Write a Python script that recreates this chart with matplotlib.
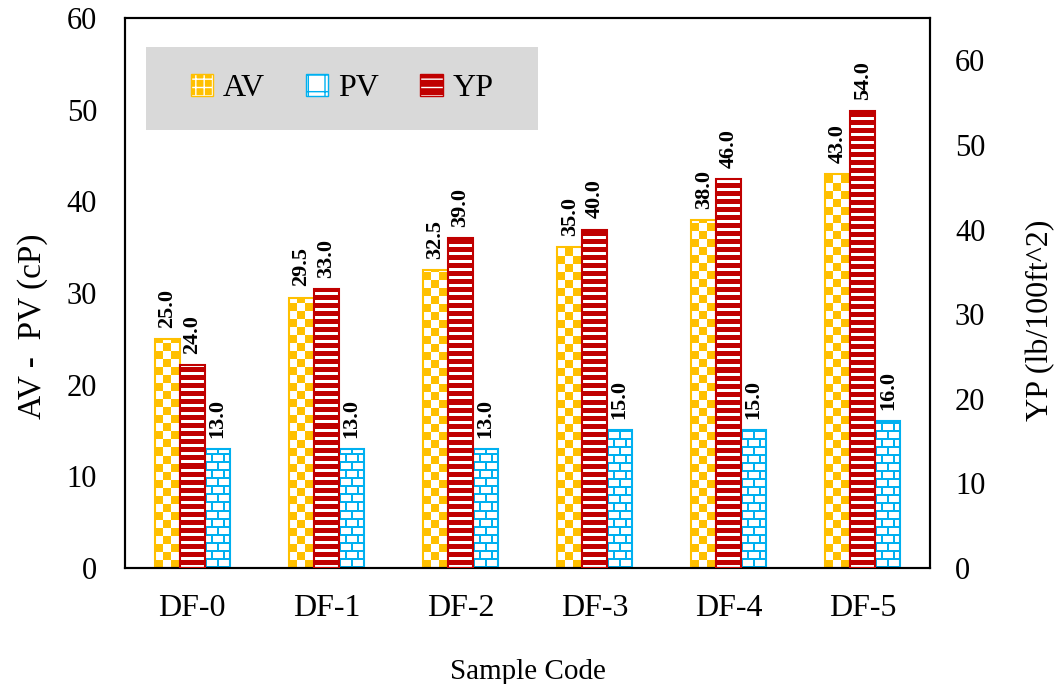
import matplotlib.pyplot as plt
import numpy as np
from matplotlib.colors import to_rgb
from matplotlib.patches import Patch, Rectangle

plt.rcParams['font.family'] = 'Liberation Serif'

samples = ['DF-0', 'DF-1', 'DF-2', 'DF-3', 'DF-4', 'DF-5']
av = [25.0, 29.5, 32.5, 35.0, 38.0, 43.0]
pv = [13.0, 13.0, 13.0, 15.0, 15.0, 16.0]
yp = [24.0, 33.0, 39.0, 40.0, 46.0, 54.0]

GOLD = '#FFC000'
BLUE = '#00B0F0'
RED = '#C00000'


def checker(h, w, color, cell=8):
    yy, xx = np.mgrid[0:h, 0:w]
    on = ((yy // cell) + (xx // cell)) % 2 == 0
    arr = np.ones((h, w, 3))
    arr[on] = to_rgb(color)
    return arr


def stripes(h, w, color, pitch=8, gap=3):
    yy, xx = np.mgrid[0:h, 0:w]
    arr = np.ones((h, w, 3))
    arr[(yy % pitch) >= gap] = to_rgb(color)
    return arr


def bricks(h, w, color, row=8, brick=12, lw=2):
    yy, xx = np.mgrid[0:h, 0:w]
    shift = ((yy // row) % 2) * (brick // 2)
    line = ((yy % row) < lw) | (((xx + shift) % brick) < lw)
    arr = np.ones((h, w, 3))
    arr[line] = to_rgb(color)
    return arr


def pattern_bars(ax, x, heights, width, color, maker):
    bbox = ax.get_window_extent()
    xs = bbox.width / np.diff(ax.get_xlim())[0]
    ys = bbox.height / np.diff(ax.get_ylim())[0]
    bars = ax.bar(x, heights, width, color='none', edgecolor=color, linewidth=1.5, zorder=3)
    for bar in bars:
        x0, w, h = bar.get_x(), bar.get_width(), bar.get_height()
        arr = maker(max(int(round(h * ys)), 1), max(int(round(w * xs)), 1), color)
        im = ax.imshow(arr, extent=(x0, x0 + w, 0, h), origin='lower',
                       interpolation='nearest', aspect='auto', zorder=2)
        im.set_clip_path(bar)
    for xi, v in zip(x, heights):
        ax.annotate(f'{v:.1f}', (xi, v), xytext=(0, 8), textcoords='offset points',
                    rotation=90, ha='center', va='bottom', fontsize=16, fontweight='bold')
    return bars


fig = plt.figure(figsize=(10.55, 6.84), dpi=100)
ax = fig.add_axes([0.1185, 0.1696, 0.763, 0.8041])
ax2 = ax.twinx()

x = np.arange(len(samples))
w = 0.186
ax.set_xlim(-0.5, 5.5)
ax.set_ylim(0, 60)
ax2.set_ylim(0, 65)

pattern_bars(ax, x - w, av, w, GOLD, checker)
pattern_bars(ax, x + w, pv, w, BLUE, bricks)
pattern_bars(ax2, x, yp, w, RED, stripes)

ax.set_xlim(-0.5, 5.5)
ax.set_ylim(0, 60)
ax2.set_ylim(0, 65)

ax.set_xticks(x)
ax.set_xticklabels(samples, fontsize=23)
ax.set_yticks(np.arange(0, 61, 10))
ax2.set_yticks(np.arange(0, 61, 10))
ax.tick_params(axis='both', length=0, labelsize=22)
ax.tick_params(axis='x', labelsize=23, pad=19)
ax.tick_params(axis='y', pad=20)
ax2.tick_params(axis='y', length=0, labelsize=22, pad=18)
for a in (ax, ax2):
    for s in a.spines.values():
        s.set_linewidth(1.5)

ax.set_ylabel('AV -  PV (cP)', fontsize=24)
ax.yaxis.set_label_coords(-0.096, 0.44)
ax2.set_ylabel('YP (lb/100ft^2)', fontsize=23)
ax2.yaxis.set_label_coords(1.119, 0.45)
ax.set_xlabel('Sample Code', fontsize=21, labelpad=26)

# grey legend panel
ax2.add_patch(Rectangle((0.026, 0.796), 0.487, 0.151, transform=ax2.transAxes,
                        facecolor='#D9D9D9', edgecolor='none', zorder=4))
handles = [
    (Patch(facecolor=GOLD, edgecolor='white', hatch='++', linewidth=0), Patch(fill=False, edgecolor=GOLD)),
    (Patch(facecolor='white', edgecolor=BLUE, hatch='+', linewidth=0), Patch(fill=False, edgecolor=BLUE)),
    (Patch(facecolor=RED, edgecolor='white', hatch='--', linewidth=0), Patch(fill=False, edgecolor=RED)),
]
leg = ax2.legend(handles, ['AV', 'PV', 'YP'], loc='center', bbox_to_anchor=(0.2695, 0.8715),
                 ncol=3, frameon=False, fontsize=23, handlelength=0.7, handleheight=0.7,
                 handletextpad=0.3, columnspacing=1.3)
leg.set_zorder(5)

fig.savefig('out.png', dpi=100)
